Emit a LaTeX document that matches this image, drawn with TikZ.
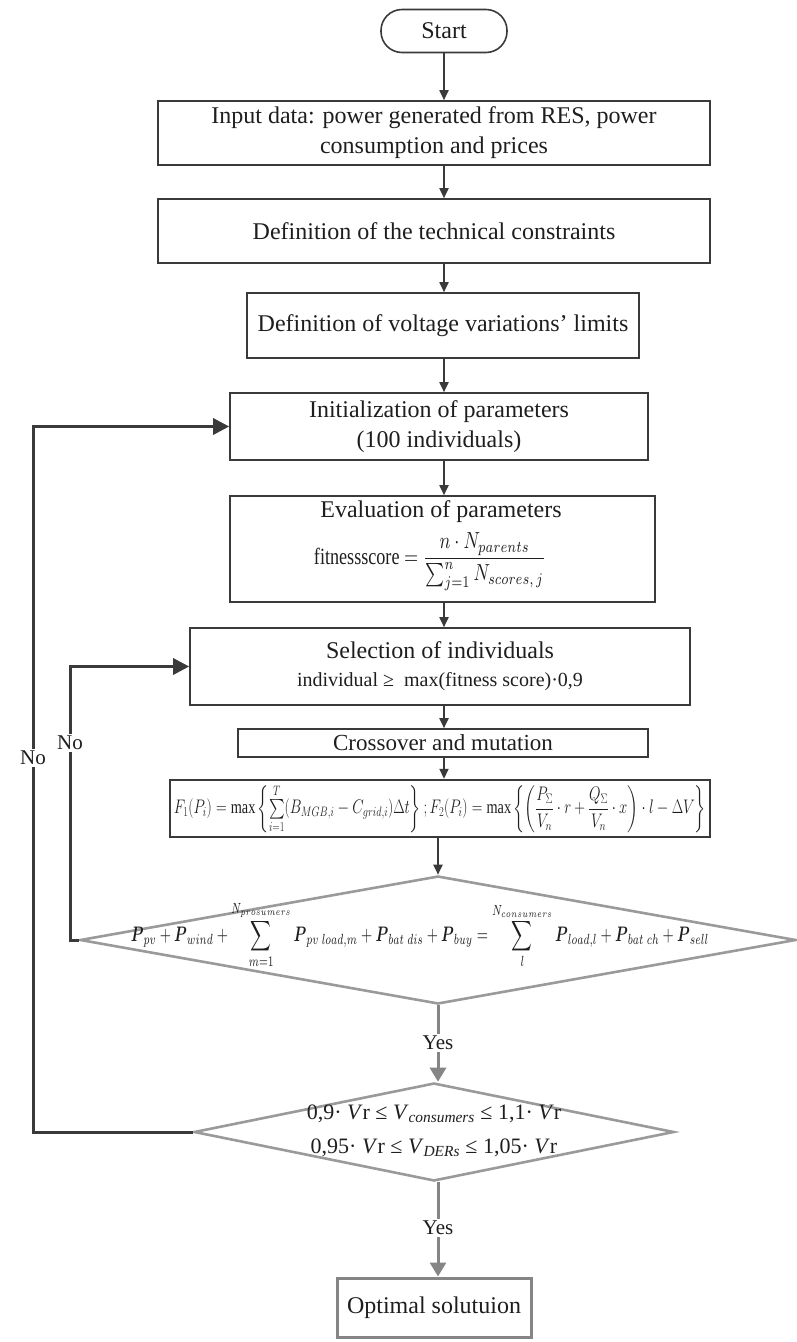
\documentclass[tikz,border=0pt]{standalone}
\usepackage{amsmath}
\usepackage{graphicx}
\usepackage{fontspec}
\setmainfont{Liberation Serif}
\usetikzlibrary{arrows.meta,shapes.geometric}
\definecolor{ln}{HTML}{3A3A3A}
\definecolor{gr}{HTML}{9A9A9A}
\definecolor{ga}{HTML}{858585}
\definecolor{tx}{HTML}{1E1E1E}
\newcommand\myP{\boldsymbol{P}}
\begin{document}
\begin{tikzpicture}[x=1pt,y=-1pt,
 box/.style={draw=ln, line width=1.6pt, rectangle, inner sep=0pt, align=center, text=tx, font=\fontsize{24}{30}\selectfont},
 arr/.style={draw=ln, line width=1.8pt, -{Triangle[length=10pt,width=9pt]}},
 loopa/.style={draw=ln, line width=3pt, -{Triangle[length=16pt,width=16pt]}},
 garr/.style={draw=ga, line width=3pt, -{Triangle[length=14pt,width=16pt]}},
 dia/.style={draw=gr, line width=2.6pt, diamond, inner sep=0pt},
 lab/.style={font=\fontsize{21}{24}\selectfont, text=tx, fill=white, inner sep=2pt},
 eq/.style={text=tx, inner sep=0pt, align=center}]
\useasboundingbox (0,0) rectangle (796,1342);

\node[box, rounded corners=21pt, minimum width=126pt, minimum height=43pt] (start) at (444,31) {Start};
\node[box, minimum width=552pt, minimum height=64pt] (input) at (434,133) {Input data: power generated from RES, power\\consumption and prices};
\node[box, minimum width=552pt, minimum height=64pt] (defc) at (434,231) {Definition of the technical constraints};
\node[box, minimum width=392pt, minimum height=65pt] (defv) at (443,325.5) {Definition of voltage variations’ limits};
\node[box, minimum width=418pt, minimum height=67pt] (init) at (439,426.5) {Initialization of parameters\\(100 individuals)};
\node[box, minimum width=425pt, minimum height=106pt] (eval) at (442.5,549) {};
\node[eq, font=\fontsize{24}{30}\selectfont] (evalt) at (441,512) {Evaluation of parameters};
\node[eq] (evalf) at (430,562) {\resizebox*{232pt}{58pt}{\fontsize{10}{12}\selectfont fitnessscore $= \dfrac{n\cdot N_{parents}}{\sum_{j=1}^{n} N_{scores,\,j}}$}};
\node[box, minimum width=500pt, minimum height=77pt] (sel) at (440,666.5) {Selection of individuals\\[-2pt]
  {\fontsize{20}{24}\selectfont individual ≥\ \ max(fitness score)·0,9}};
\node[box, font=\fontsize{23}{28}\selectfont, minimum width=410pt, minimum height=28pt] (cross) at (443,743) {Crossover and mutation};
\node[box, line width=2.4pt, minimum width=540pt, minimum height=57pt] (fbox) at (440,808.5) {%
  \resizebox*{532pt}{49pt}{$F_1(P_i) = \max\left\{\sum\limits_{i=1}^{T}(B_{MGB,i} - C_{grid,i})\Delta t\right\};F_2(P_i) = \max\left\{\left(\dfrac{P_\Sigma}{V_n}\cdot r + \dfrac{Q_\Sigma}{V_n}\cdot x\right)\cdot l - \Delta V\right\}$}};

\node[dia, minimum width=716pt, minimum height=128pt] (d1) at (438,940) {};
\node[eq] (d1t) at (420,935) {\resizebox*{578pt}{68pt}{$\displaystyle \myP_{pv} + \myP_{wind} + \sum_{m=1}^{N_{prosumers}} \myP_{pv\;load,m} + \myP_{bat\;dis} + \myP_{buy} = \sum_{l}^{N_{consumers}} \myP_{load,l} + \myP_{bat\;ch} + \myP_{sell}$}};

\node[dia, minimum width=480pt, minimum height=98pt] (d2) at (434,1132) {};
\node[eq, font=\fontsize{22}{34}\selectfont] (d2t) at (434,1131) {0,9· \textit{V}r ≤ \textit{V}\textsubscript{\textit{consumers}} ≤ 1,1· \textit{V}r\\
  0,95· \textit{V}r ≤ \textit{V}\textsubscript{\textit{DERs}} ≤ 1,05· \textit{V}r};

\node[box, draw=ga, line width=3pt, minimum width=194pt, minimum height=59pt] (opt) at (434,1307.5) {Optimal solutuion};

% main arrows
\draw[arr] (start.south) -- (start |- input.north);
\draw[arr] (start |- input.south) -- (start |- defc.north);
\draw[arr] (start |- defc.south) -- (start |- defv.north);
\draw[arr] (start |- defv.south) -- (start |- init.north);
\draw[arr] (start |- init.south) -- (start |- eval.north);
\draw[arr] (start |- eval.south) -- (start |- sel.north);
\draw[arr] (start |- sel.south) -- (start |- cross.north);
\draw[arr] (start |- cross.south) -- (start |- fbox.north);
\draw[arr] (d1.north |- fbox.south) -- (d1.north);

% yes branches
\draw[garr] (d1.south) -- (d1.south |- d2.north);
\node[lab] (yes1) at (438,1043) {Yes};
\draw[garr] (d1.south |- d2.south) -- (d1.south |- opt.north);
\node[lab] (yes2) at (438,1228) {Yes};

% no loops
\coordinate (o1) at (33,1132);
\coordinate (o2) at (33,426.5);
\draw[loopa] (d2.west) -- (o1) -- (o2) -- (init.west);
\coordinate (i1) at (70,940);
\coordinate (i2) at (70,666.5);
\draw[loopa] (d1.west) -- (i1) -- (i2) -- (sel.west);
\node[lab] (no1) at (33,758) {No};
\node[lab] (no2) at (70,743) {No};
\end{tikzpicture}
\end{document}
